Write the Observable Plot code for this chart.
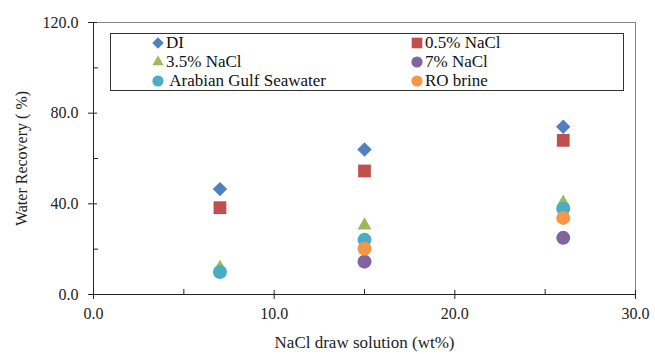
<!DOCTYPE html>
<html>
<head>
<meta charset="utf-8">
<script src="https://cdn.jsdelivr.net/npm/d3@7"></script>
<script src="https://cdn.jsdelivr.net/npm/@observablehq/plot@0.6"></script>
<style>
  html, body { margin: 0; padding: 0; background: #fff; }
  #chart { position: relative; width: 655px; height: 354px; font-family: "Liberation Serif", "Times New Roman", serif; }
  #legend { position: absolute; left: 110px; top: 33px; width: 514px; height: 58px; border: 1px solid #333; box-sizing: border-box; font-family: "Liberation Serif", "Times New Roman", serif; font-size: 17px; color: #111; }
  .item { position: absolute; display: flex; align-items: center; height: 18px; white-space: pre; }
  .item svg { margin-right: 1px; }
</style>
</head>
<body>
<div id="chart"></div>
<script>
// Draw solution concentration (wt% NaCl)
const drawConc = [7, 15, 26];

// Water recovery (%) for each feed solution
const di = [46.5, 64.0, 74.0];
const nacl05 = [38.3, 54.5, 68.0];
const nacl35 = [11.8, 30.5, 40.5];
const nacl7 = [null, 14.5, 25.0];
const gulf = [9.9, 24.1, 37.8];
const roBrine = [null, 20.2, 33.8];

const seriesNames = ["DI", "0.5% NaCl", "3.5% NaCl", "7% NaCl", " Arabian Gulf Seawater", "RO brine"];
const seriesValues = [di, nacl05, nacl35, nacl7, gulf, roBrine];
const seriesColors = ["#4F81BD", "#C0504D", "#9BBB59", "#8064A2", "#4BACC6", "#F79646"];
const seriesSymbols = ["diamond2", "square", "triangle", "circle", "circle", "circle"];
const seriesRadius = [6.5, 7.2, 5.2, 7, 7, 7];
const legendRadius = [5.2, 6, 4.2, 5.6, 5.6, 5.6];

const xTicks = [0, 10, 20, 30];
const xMinor = [5, 15, 25];
const yTicks = [0, 40, 80, 120];
const yMinor = [20, 60, 100];

const fmt = d => d.toFixed(1);
const blank = () => "";

const dotMarks = seriesValues.map((vals, i) =>
  Plot.dot(drawConc.map((x, j) => ({x, y: vals[j]})), {
    x: "x", y: "y",
    symbol: () => seriesSymbols[i],
    fill: seriesColors[i],
    r: seriesRadius[i],
    stroke: "none"
  })
);

const chart = Plot.plot({
  width: 655,
  height: 354,
  marginLeft: 93,
  marginRight: 20,
  marginTop: 22,
  marginBottom: 60,
  style: {fontFamily: "Liberation Serif, Times New Roman, serif", fontSize: "16px", color: "#222", background: "#fff"},
  x: {domain: [0, 30]},
  y: {domain: [0, 120]},
  symbol: {type: "identity"},
  marks: [
    Plot.frame({stroke: "#888", strokeWidth: 1}),
    // minor ticks sit inside the plot area
    Plot.axisX({ticks: xMinor, tickSize: 5, dy: -5, tickFormat: blank, label: null, stroke: "#222"}),
    Plot.axisY({ticks: yMinor, tickSize: 5, dx: 5, tickFormat: blank, label: null, stroke: "#222"}),
    // major ticks cross the axis line
    Plot.axisX({ticks: xTicks, tickSize: 4, dy: -4, tickFormat: blank, label: null, stroke: "#222"}),
    Plot.axisY({ticks: yTicks, tickSize: 4, dx: 4, tickFormat: blank, label: null, stroke: "#222"}),
    Plot.axisX({ticks: xTicks, tickSize: 5, tickPadding: 8, tickFormat: fmt, label: null, stroke: "#222", fill: "#222"}),
    Plot.axisY({ticks: yTicks, tickSize: 5, tickPadding: 10, tickFormat: fmt, label: null, stroke: "#222", fill: "#222"}),
    Plot.ruleY([0], {stroke: "#222"}),
    Plot.ruleX([0], {stroke: "#222"}),
    ...dotMarks,
    Plot.text(["NaCl draw solution (wt%)"], {frameAnchor: "bottom", dy: 53, fontSize: 17, fill: "#222"}),
    Plot.text(["Water Recovery ( %)"], {frameAnchor: "left", textAnchor: "middle", dx: -72, rotate: -90, fontSize: 16, fill: "#222"})
  ]
});

const root = document.getElementById("chart");
root.appendChild(chart);

// Legend box inside the plot area
const legend = document.createElement("div");
legend.id = "legend";
root.appendChild(legend);
const symbolPath = (name, r) => {
  const map = {diamond2: d3.symbolDiamond2, square: d3.symbolSquare, triangle: d3.symbolTriangle, circle: d3.symbolCircle};
  return d3.symbol(map[name], Math.PI * r * r)();
};
seriesNames.forEach((name, i) => {
  const col = i % 2, row = Math.floor(i / 2);
  const item = document.createElement("div");
  item.className = "item";
  item.style.left = (col === 0 ? 40 : 299) + "px";
  item.style.top = (row * 19) + "px";
  item.innerHTML = `<svg width="14" height="14" viewBox="-7 -7 14 14"><path d="${symbolPath(seriesSymbols[i], legendRadius[i])}" fill="${seriesColors[i]}"/></svg>`;
  const t = document.createElement("span");
  t.textContent = name;
  item.appendChild(t);
  legend.appendChild(item);
});
</script>
</body>
</html>
